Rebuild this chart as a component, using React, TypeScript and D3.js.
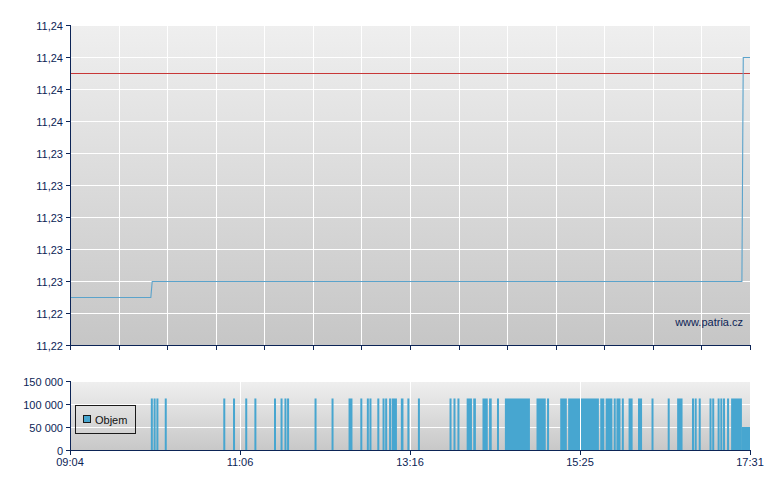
import React from 'react';
import * as d3 from 'd3';

// session axis labels (evenly spaced on the chart)
const xLabels = ['09:04', '11:06', '13:16', '15:25', '17:31'];

// price (step line) and reference line
const priceTimes = ['09:04', '10:02', '10:03', '17:25', '17:26', '17:31'];
const priceValues = [11.225, 11.225, 11.226, 11.226, 11.24, 11.24];
const refPrice = 11.239;
const priceTicks = [11.222, 11.224, 11.226, 11.228, 11.23, 11.232, 11.234, 11.236, 11.238, 11.24, 11.242];

// volume runs: [from, to (inclusive), volume]
const volumeRuns: [string, string, number][] = [
  ['10:02', '10:02', 112000], ['10:04', '10:04', 112000], ['10:06', '10:06', 112000],
  ['10:12', '10:12', 112000], ['10:54', '10:54', 112000], ['11:01', '11:01', 112000],
  ['11:10', '11:10', 112000], ['11:17', '11:17', 112000], ['11:32', '11:32', 112000],
  ['11:37', '11:37', 112000], ['11:40', '11:40', 112000], ['11:42', '11:42', 112000],
  ['12:03', '12:03', 112000], ['12:16', '12:16', 112000], ['12:29', '12:31', 112000],
  ['12:38', '12:38', 112000], ['12:43', '12:43', 112000], ['12:45', '12:45', 112000],
  ['12:51', '12:51', 112000], ['12:55', '12:55', 112000], ['12:57', '12:57', 112000],
  ['13:00', '13:00', 112000], ['13:02', '13:05', 112000], ['13:09', '13:10', 112000],
  ['13:14', '13:14', 112000], ['13:22', '13:22', 112000], ['13:46', '13:46', 112000],
  ['13:49', '13:49', 112000], ['13:52', '13:52', 112000], ['13:59', '14:02', 112000],
  ['14:04', '14:05', 112000], ['14:11', '14:14', 112000], ['14:16', '14:17', 112000],
  ['14:22', '14:22', 112000], ['14:28', '14:46', 112000], ['14:52', '14:58', 112000],
  ['15:00', '15:00', 112000], ['15:10', '15:14', 112000], ['15:16', '15:38', 112000],
  ['15:40', '15:42', 112000], ['15:44', '15:48', 112000], ['15:50', '15:50', 112000],
  ['15:52', '15:54', 112000], ['15:56', '15:56', 112000], ['16:01', '16:03', 112000],
  ['16:08', '16:10', 112000], ['16:18', '16:18', 112000], ['16:30', '16:30', 112000],
  ['16:37', '16:40', 112000], ['16:48', '16:48', 112000], ['16:50', '16:50', 112000],
  ['16:53', '16:53', 112000], ['17:01', '17:01', 112000], ['17:03', '17:03', 112000],
  ['17:07', '17:07', 112000], ['17:09', '17:09', 112000], ['17:11', '17:11', 112000],
  ['17:14', '17:14', 112000], ['17:17', '17:24', 112000], ['17:25', '17:30', 50000],
];
const volumeTicks = [0, 50000, 100000, 150000];

const W = 780;
const H = 490;
const left = 70;
const right = 750;
const mainTop = 25;
const mainBottom = 345;
const volTop = 381;
const volBottom = 450;
const mainGridCount = 14;

const AXIS = '#0c2456';
const FONT = 'Arial, "Liberation Sans", sans-serif';

const toMin = (s: string) => {
  const [h, m] = s.split(':').map(Number);
  return h * 60 + m;
};

const App: React.FC = () => {
  const xDomain = xLabels.map(toMin);
  const x = d3.scaleLinear()
    .domain(xDomain)
    .range(d3.quantize(d3.interpolate(left, right), xLabels.length));
  const grid = d3.scaleLinear().domain([0, mainGridCount]).range([left, right]);

  const yP = d3.scaleLinear()
    .domain([priceTicks[0], priceTicks[priceTicks.length - 1]])
    .range([mainBottom, mainTop]);
  const yV = d3.scaleLinear()
    .domain([0, volumeTicks[volumeTicks.length - 1]])
    .range([volBottom, volTop]);

  const fmtP = (v: number) => d3.format('.2f')(v).replace('.', ',');
  const fmtV = d3.formatLocale({ decimal: ',', thousands: ' ', grouping: [3], currency: ['', ''] }).format(',d');

  const line = d3.line<number>()
    .x((_, i) => x(toMin(priceTimes[i])))
    .y(d => yP(d));

  return (
    <svg width={W} height={H} style={{ position: 'absolute', left: 0, top: 0, display: 'block' }}
      fontFamily={FONT} fontSize={11}>
      <defs>
        <linearGradient id="bgMain" x1="0" y1="0" x2="0" y2="1">
          <stop offset="0" stopColor="#efefef" />
          <stop offset="1" stopColor="#c6c6c6" />
        </linearGradient>
        <linearGradient id="bgVol" x1="0" y1="0" x2="0" y2="1">
          <stop offset="0" stopColor="#efefef" />
          <stop offset="1" stopColor="#c8c8c8" />
        </linearGradient>
      </defs>
      <rect width={W} height={H} fill="#fff" />

      {/* main price panel */}
      <rect x={left} y={mainTop} width={right - left} height={mainBottom - mainTop} fill="url(#bgMain)" />
      <g stroke="#fff" strokeWidth={1} shapeRendering="crispEdges">
        {priceTicks.map(t => (
          <line key={'h' + t} x1={left} x2={right} y1={Math.round(yP(t)) + 0.5} y2={Math.round(yP(t)) + 0.5} />
        ))}
        {d3.range(1, mainGridCount + 1).map(i => (
          <line key={'v' + i} x1={Math.round(grid(i)) + 0.5} x2={Math.round(grid(i)) + 0.5} y1={mainTop} y2={mainBottom} />
        ))}
      </g>
      <line x1={left} x2={right} y1={Math.round(yP(refPrice)) + 0.5} y2={Math.round(yP(refPrice)) + 0.5}
        stroke="#c83737" strokeWidth={1} />
      <path d={line(priceValues) || ''} transform="translate(0,0.5)" fill="none" stroke="#5ba3cb" strokeWidth={1.1} />
      <text x={743} y={326} textAnchor="end" fill={AXIS}>www.patria.cz</text>

      {/* main axes */}
      <g stroke={AXIS} strokeWidth={1} shapeRendering="crispEdges">
        <line x1={left + 0.5} x2={left + 0.5} y1={mainTop} y2={mainBottom + 1} />
        <line x1={left} x2={right + 1} y1={mainBottom + 0.5} y2={mainBottom + 0.5} />
        {priceTicks.map(t => (
          <line key={'pt' + t} x1={left - 4} x2={left} y1={Math.round(yP(t)) + 0.5} y2={Math.round(yP(t)) + 0.5} />
        ))}
        {d3.range(0, mainGridCount + 1).map(i => (
          <line key={'xt' + i} x1={Math.round(grid(i)) + 0.5} x2={Math.round(grid(i)) + 0.5} y1={mainBottom} y2={mainBottom + 5} />
        ))}
      </g>
      <g fill={AXIS} textAnchor="end">
        {priceTicks.map(t => (
          <text key={'pl' + t} x={left - 7} y={yP(t) + 4.5}>{fmtP(t)}</text>
        ))}
      </g>

      {/* volume panel */}
      <rect x={left} y={volTop} width={right - left} height={volBottom - volTop} fill="url(#bgVol)" />
      <g stroke="#fff" strokeWidth={1} shapeRendering="crispEdges">
        {volumeTicks.slice(1).map(t => (
          <line key={'vh' + t} x1={left} x2={right} y1={Math.round(yV(t)) + 0.5} y2={Math.round(yV(t)) + 0.5} />
        ))}
      </g>
      <g fill="#47a6d0">
        {volumeRuns.map(([from, to, v], i) => {
          const x0 = x(toMin(from));
          const x1 = x(toMin(to) + 1);
          return (
            <rect key={'b' + i} x={x0} y={yV(v)} width={Math.max(2, x1 - x0)} height={yV(0) - yV(v)} />
          );
        })}
      </g>
      <g stroke="#fff" strokeWidth={1} shapeRendering="crispEdges">
        {xDomain.slice(1, -1).map(m => (
          <line key={'vv' + m} x1={Math.round(x(m)) + 0.5} x2={Math.round(x(m)) + 0.5} y1={volTop} y2={volBottom} />
        ))}
      </g>

      {/* legend */}
      <rect x={75.5} y={405.5} width={60} height={28} fill="none" stroke="#1a1a1a" strokeWidth={1} />
      <rect x={83.5} y={415.5} width={7} height={7} fill="#47a6d0" stroke="#1a1a1a" strokeWidth={1} />
      <text x={95} y={424} fill="#111">Objem</text>

      {/* volume axes */}
      <g stroke={AXIS} strokeWidth={1} shapeRendering="crispEdges">
        <line x1={left + 0.5} x2={left + 0.5} y1={volTop} y2={volBottom + 1} />
        <line x1={left} x2={right + 1} y1={volBottom + 0.5} y2={volBottom + 0.5} />
        {volumeTicks.map(t => (
          <line key={'vt' + t} x1={left - 4} x2={left} y1={Math.round(yV(t)) + 0.5} y2={Math.round(yV(t)) + 0.5} />
        ))}
        {xDomain.map(m => (
          <line key={'xv' + m} x1={Math.round(x(m)) + 0.5} x2={Math.round(x(m)) + 0.5} y1={volBottom} y2={volBottom + 5} />
        ))}
      </g>
      <g fill={AXIS} textAnchor="end">
        {volumeTicks.map(t => (
          <text key={'vl' + t} x={left - 7} y={yV(t) + 4.5}>{fmtV(t)}</text>
        ))}
      </g>
      <g fill={AXIS} textAnchor="middle">
        {xLabels.map((l, i) => (
          <text key={'xl' + l} x={x(xDomain[i])} y={466}>{l}</text>
        ))}
      </g>
    </svg>
  );
};

export default App;
